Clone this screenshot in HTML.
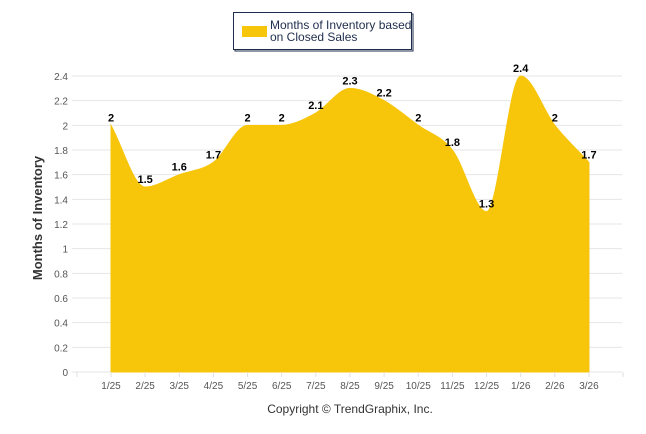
<!DOCTYPE html>
<html><head><meta charset="utf-8"><style>
body{margin:0;background:#fff;}
svg{display:block;font-family:"Liberation Sans",sans-serif;}
</style></head><body>
<svg id="chart" width="646" height="434">
<g>
<rect x="235" y="14" width="178" height="37" fill="#fff" stroke="#1f2d4d" stroke-width="1"/>
<rect x="233.5" y="12.5" width="178" height="37" fill="#fff" stroke="#1f2d4d" stroke-width="1"/>
<rect x="242" y="26" width="25" height="11" fill="#f7c50a"/>
<text x="270" y="29" font-size="12" fill="#1f2d4d"><tspan x="270" y="29">Months of Inventory based</tspan><tspan x="270" y="41">on Closed Sales</tspan></text>
</g>
<g id="grid"></g>
<g id="area"></g>
<g id="labels"></g>
<g id="xaxis"></g>
<text x="42" y="218" font-size="13" font-weight="bold" fill="#333" text-anchor="middle" transform="rotate(-90 42 218)">Months of Inventory</text>
<text x="350" y="413" font-size="12" fill="#333" text-anchor="middle">Copyright © TrendGraphix, Inc.</text>
</svg>
<script>
const categories=["1/25","2/25","3/25","4/25","5/25","6/25","7/25","8/25","9/25","10/25","11/25","12/25","1/26","2/26","3/26"];
const values=[2,1.5,1.6,1.7,2,2,2.1,2.3,2.2,2,1.8,1.3,2.4,2,1.7];
const yTicks=[0,0.2,0.4,0.6,0.8,1,1.2,1.4,1.6,1.8,2,2.2,2.4];
const NS="http://www.w3.org/2000/svg";
const x0=111,dx=34.14,yBase=372,yScale=123.33;
function xPos(i){return x0+dx*i;}
function yPos(v){return yBase-v*yScale;}
function mk(tag,attrs,parent,text){const e=document.createElementNS(NS,tag);for(const k in attrs)e.setAttribute(k,attrs[k]);if(text!==undefined)e.textContent=text;parent.appendChild(e);return e;}
const grid=document.getElementById('grid');
yTicks.forEach(t=>{
  const l=mk('line',{x1:72,x2:622,y1:yPos(t),y2:yPos(t),stroke:'#e6e6e6','stroke-width':1},grid);
  
  
  const tx=mk('text',{x:68,y:yPos(t)+4,'font-size':10,fill:'#555','text-anchor':'end'},grid,String(t));
  
  
});
const xa=document.getElementById('xaxis');
for(let k=-1;k<categories.length+1;k++){
  const tm=mk('line',{x1:xPos(k),x2:xPos(k),y1:yBase,y2:yBase+5,stroke:'#e0e0e0'},xa);
  
  
}
categories.forEach((c,i)=>{
  const t=mk('text',{x:xPos(i),y:389,'font-size':10,fill:'#555','text-anchor':'middle'},xa,c);
  
  
});
// monotone cubic path
const pts=values.map((v,i)=>[xPos(i),yPos(v)]);
const n=pts.length,m=[],d=[];
for(let i=0;i<n-1;i++)d.push((pts[i+1][1]-pts[i][1])/(pts[i+1][0]-pts[i][0]));
for(let i=0;i<n;i++){
  if(i===0)m.push(d[0]);else if(i===n-1)m.push(d[n-2]);
  else m.push(d[i-1]*d[i]<=0?0:(d[i-1]+d[i])/2);
}
let p=`M${pts[0][0]},${yBase} L${pts[0][0]},${pts[0][1]}`;
for(let i=0;i<n-1;i++){
  const h=(pts[i+1][0]-pts[i][0])/3;
  p+=` C${pts[i][0]+h},${pts[i][1]+m[i]*h} ${pts[i+1][0]-h},${pts[i+1][1]-m[i+1]*h} ${pts[i+1][0]},${pts[i+1][1]}`;
}
p+=` L${pts[n-1][0]},${yBase} Z`;
const area=mk('path',{d:p,fill:'#f7c50a',stroke:'#f7c50a','stroke-width':1},document.getElementById('area'));


const lg=document.getElementById('labels');
values.forEach((v,i)=>{
  const t=mk('text',{x:xPos(i),y:yPos(v)-4,'font-size':11,'font-weight':'bold',fill:'#000','text-anchor':'middle'},lg,String(v));
  
  
});
</script>
</body></html>
